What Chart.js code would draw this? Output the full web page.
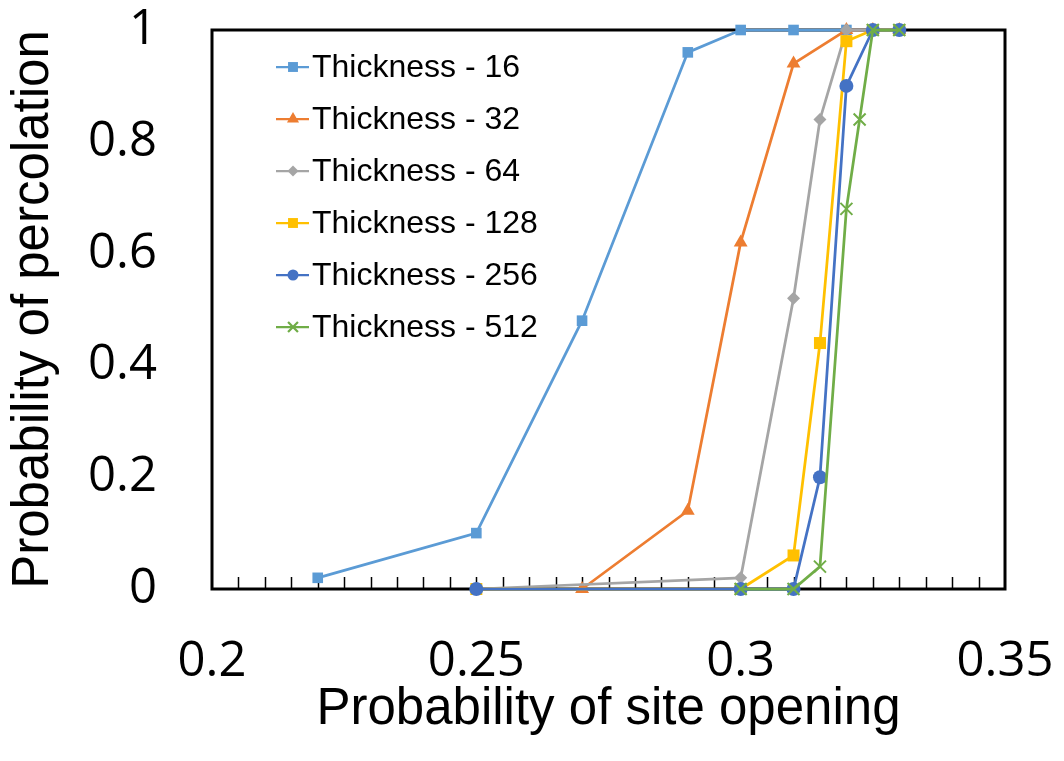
<!DOCTYPE html>
<html>
<head>
    <title>Probability of percolation</title>
    <script src="https://cdnjs.cloudflare.com/ajax/libs/Chart.js/4.4.1/chart.umd.min.js"></script>
    <style>
        body { margin: 0; background: #fff; }
    </style>
</head>
<body>
    <canvas id="myChart" width="1064" height="761"></canvas>

    <script>
        // Axis ticks
        const xTicks = [0.2, 0.25, 0.3, 0.35];
        const yTicks = [0, 0.2, 0.4, 0.6, 0.8, 1];

        // Series (x = probability of site opening)
        const labels = ['Thickness - 16', 'Thickness - 32', 'Thickness - 64', 'Thickness - 128', 'Thickness - 256', 'Thickness - 512'];
        const x16 = [0.22, 0.25, 0.27, 0.29, 0.30, 0.31, 0.32, 0.325, 0.33];
        const y16 = [0.02, 0.10, 0.48, 0.96, 1, 1, 1, 1, 1];
        const x32 = [0.27, 0.29, 0.30, 0.31, 0.32, 0.325, 0.33];
        const y32 = [0, 0.14, 0.62, 0.94, 1, 1, 1];
        const x64 = [0.25, 0.30, 0.31, 0.315, 0.32, 0.325, 0.33];
        const y64 = [0, 0.02, 0.52, 0.84, 1, 1, 1];
        const x128 = [0.25, 0.30, 0.31, 0.315, 0.32, 0.325, 0.33];
        const y128 = [0, 0, 0.06, 0.44, 0.98, 1, 1];
        const x256 = [0.25, 0.30, 0.31, 0.315, 0.32, 0.325, 0.33];
        const y256 = [0, 0, 0, 0.2, 0.9, 1, 1];
        const x512 = [0.30, 0.31, 0.315, 0.32, 0.3225, 0.325, 0.33];
        const y512 = [0, 0, 0.04, 0.68, 0.84, 1, 1];

        const xs = [x16, x32, x64, x128, x256, x512];
        const ys = [y16, y32, y64, y128, y256, y512];
        const colors = ['#5B9BD5', '#ED7D31', '#A5A5A5', '#FFC000', '#4472C4', '#70AD47'];
        const styles = ['rect', 'triangle', 'rectRot', 'rect', 'circle', 'crossRot'];
        const radii = [7.5, 8, 6.5, 8.5, 7, 8.5];
        const legendRadii = [7, 7, 5.5, 7, 5.5, 7];

        const datasets = labels.map((label, i) => ({
            label: label,
            data: xs[i].map((x, j) => ({ x: x, y: ys[i][j] })),
            borderColor: colors[i],
            backgroundColor: colors[i],
            borderWidth: 2.75,
            pointStyle: styles[i],
            pointRadius: radii[i],
            pointBorderWidth: styles[i] === 'crossRot' ? 2 : 0,
            pointBorderColor: colors[i],
            pointBackgroundColor: colors[i],
            tension: 0,
            fill: false,
            clip: false,
            order: labels.length - i   // later series on top, like Excel
        }));

        // black frame + small inward ticks on the x axis
        const framePlugin = {
            id: 'frame',
            beforeDatasetsDraw(chart) {
                const { ctx, chartArea: a, scales } = chart;
                ctx.save();
                ctx.strokeStyle = '#000';
                ctx.lineWidth = 1.5;
                for (let k = 1; k < 30; k++) {
                    const v = 0.2 + k * 0.005;
                    const px = Math.round(scales.x.getPixelForValue(v)) + 0.5;
                    ctx.beginPath();
                    ctx.moveTo(px, a.bottom);
                    ctx.lineTo(px, a.bottom - 12);
                    ctx.stroke();
                }
                ctx.lineWidth = 3;
                ctx.strokeRect(a.left, a.top, a.right - a.left, a.bottom - a.top);
                ctx.restore();
            }
        };

        // legend drawn inside the plot, Excel style (line + marker)
        const legendPlugin = {
            id: 'insideLegend',
            afterDatasetsDraw(chart) {
                const ctx = chart.ctx;
                ctx.save();
                ctx.font = '32px "Liberation Sans", Arial, sans-serif';
                ctx.textBaseline = 'middle';
                labels.forEach((label, i) => {
                    const y = 67 + i * 52;
                    ctx.strokeStyle = colors[i];
                    ctx.fillStyle = colors[i];
                    ctx.lineWidth = 2.25;
                    ctx.beginPath();
                    ctx.moveTo(276, y);
                    ctx.lineTo(309, y);
                    ctx.stroke();
                    Chart.helpers.drawPoint(ctx, {
                        pointStyle: styles[i],
                        radius: legendRadii[i],
                        borderWidth: styles[i] === 'crossRot' ? 1.5 : 0,
                        rotation: 0
                    }, 293, y);
                    ctx.fillStyle = '#000';
                    ctx.fillText(label, 312, y + 1);
                });
                ctx.restore();
            }
        };

        const ctx = document.getElementById('myChart').getContext('2d');
        new Chart(ctx, {
            type: 'line',
            data: { datasets: datasets },
            plugins: [framePlugin, legendPlugin],
            options: {
                responsive: false,
                animation: false,
                layout: { padding: { top: 30, right: 59, left: 0, bottom: 0 } },
                plugins: {
                    legend: { display: false },
                    tooltip: { enabled: false }
                },
                scales: {
                    x: {
                        type: 'linear',
                        min: 0.2,
                        max: 0.35,
                        afterBuildTicks: s => { s.ticks = xTicks.map(v => ({ value: v })); },
                        afterFit: s => { s.height = 172; s.paddingLeft = 0; s.paddingRight = 0; },
                        grid: { display: false, drawTicks: false },
                        border: { display: false },
                        ticks: {
                            color: '#000',
                            padding: 44,
                            maxRotation: 0,
                            font: { family: '"Open Sans", sans-serif', size: 49 },
                            callback: v => String(v)
                        },
                        title: {
                            display: true,
                            text: 'Probability of site opening',
                            color: '#000',
                            font: { family: '"Liberation Sans", Arial, sans-serif', size: 51 },
                            padding: { top: 0, bottom: 20 }
                        }
                    },
                    y: {
                        min: 0,
                        max: 1,
                        afterBuildTicks: s => { s.ticks = yTicks.map(v => ({ value: v })); },
                        afterFit: s => { s.width = 212; s.paddingTop = 0; s.paddingBottom = 0; },
                        grid: { display: false, drawTicks: false },
                        border: { display: false },
                        ticks: {
                            color: '#000',
                            padding: 55,
                            font: { family: '"Open Sans", sans-serif', size: 49 },
                            callback: v => String(v)
                        },
                        title: {
                            display: true,
                            text: 'Probability of percolation',
                            color: '#000',
                            font: { family: '"Liberation Sans", Arial, sans-serif', size: 51 },
                            padding: { top: 3, bottom: 0 }
                        }
                    }
                }
            }
        });
    </script>
</body>
</html>
